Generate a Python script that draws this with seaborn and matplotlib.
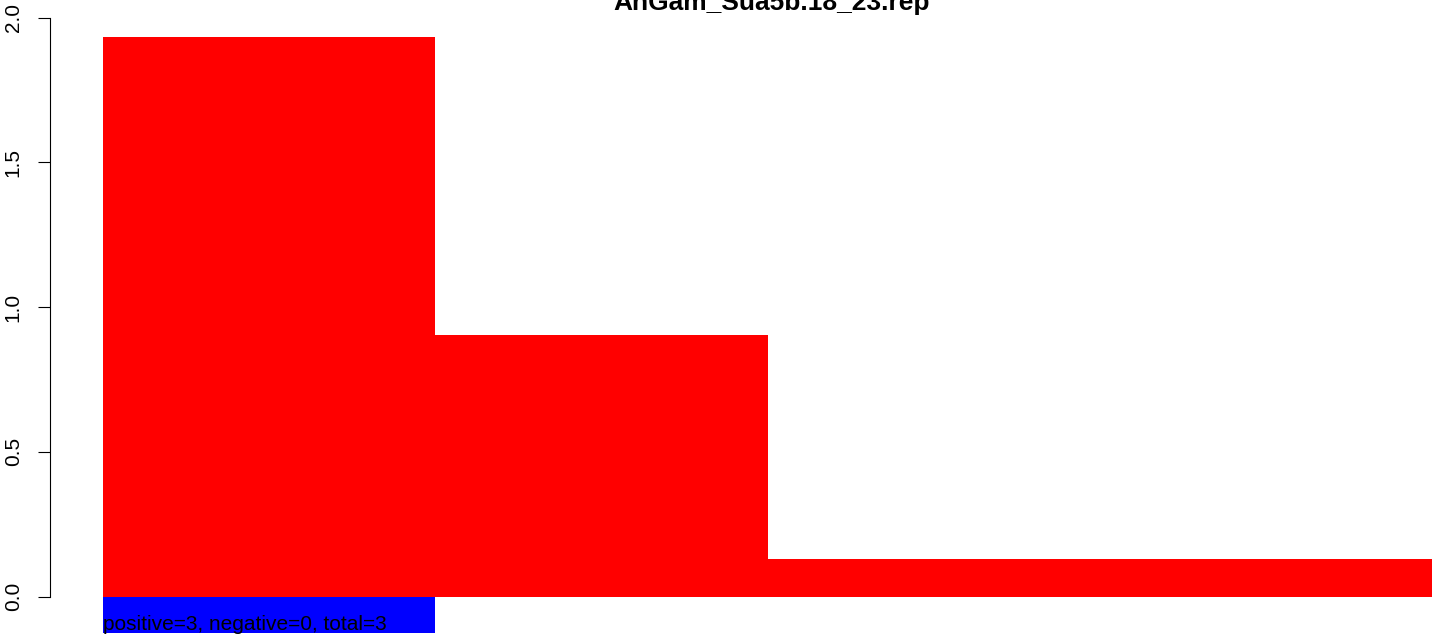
import numpy as np
import matplotlib
matplotlib.use('Agg')
import matplotlib.pyplot as plt
import seaborn as sns

# values
bin_edges = [0, 1, 2, 4]
pos_heights = [1.933, 0.904, 0.130]
neg_edges = [0, 1]
neg_heights = [-0.126]
title = 'AnGam_Sua5b.18_23.rep'
note = 'positive=3, negative=0, total=3'
ytick_vals = [0.0, 0.5, 1.0, 1.5, 2.0]
ytick_labels = ['0.0', '0.5', '1.0', '1.5', '2.0']

sns.set_style('white')
plt.rcParams['font.family'] = ['Liberation Sans', 'DejaVu Sans']
plt.rcParams['text.color'] = 'black'

fig = plt.figure(figsize=(14.44, 6.4), dpi=100)
ax = fig.add_axes([50 / 1444, 0, 1394 / 1444, 1])

mids = [(a + b) / 2 for a, b in zip(bin_edges[:-1], bin_edges[1:])]
sns.histplot(x=mids, weights=pos_heights, bins=bin_edges, color='#ff0000',
             alpha=1, linewidth=0, ax=ax)
ax.bar(neg_edges[:-1], neg_heights, width=np.diff(neg_edges), align='edge',
       color='#0000ff', linewidth=0)

ax.set_xlim(-0.1595, 4.036)
ax.set_ylim(-0.1496, 2.061)

ax.set_yticks(ytick_vals)
ax.set_yticklabels(ytick_labels, rotation=90, va='center', fontsize=15)
ax.tick_params(axis='y', left=True, length=8.6, width=0.8, pad=11, colors='black')
ax.set_xticks([])
ax.set_xlabel('')
ax.set_ylabel('')
for s in ['top', 'right', 'bottom']:
    ax.spines[s].set_visible(False)
ax.spines['left'].set_bounds(0, 2)
ax.spines['left'].set_linewidth(0.8)
ax.spines['left'].set_color('black')
ax.patch.set_alpha(0)

ax.text(0, -0.115, note, ha='left', va='baseline', fontsize=15, color='black')
fig.text(772 / 1444, 1 - 10 / 640, title, ha='center', va='baseline',
         fontsize=19, fontweight='bold', color='black')

fig.savefig('out.png', dpi=100)
